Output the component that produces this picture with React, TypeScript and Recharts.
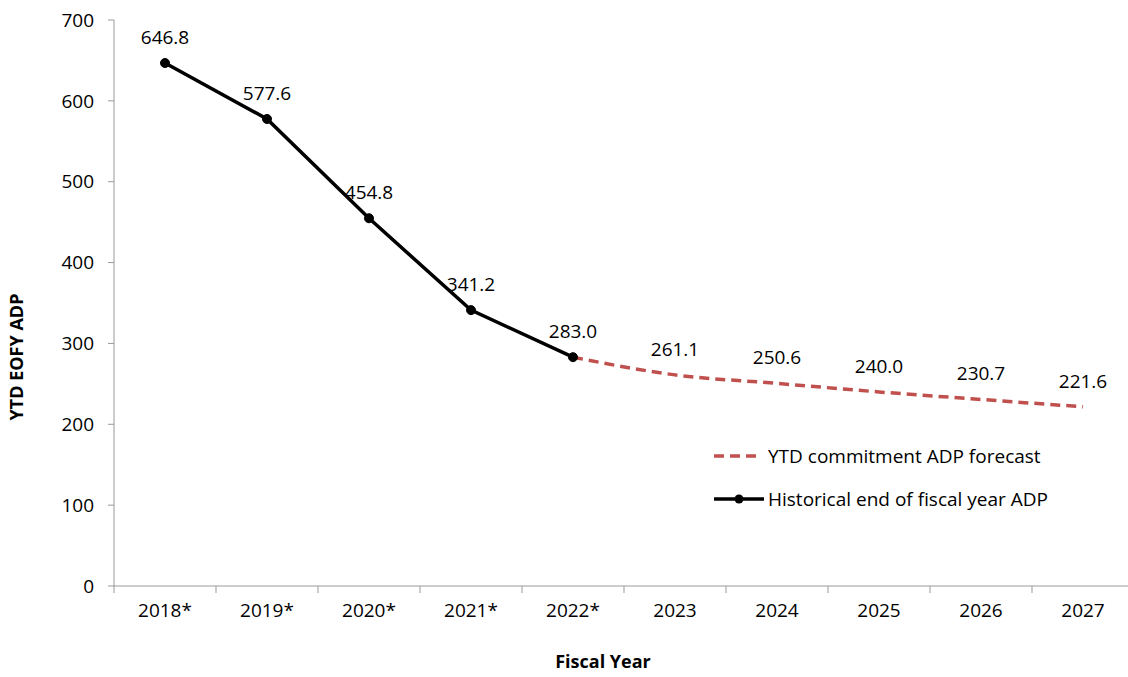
import React from 'react';
import {
  LineChart,
  Line,
  XAxis,
  YAxis,
  LabelList,
} from 'recharts';

const years = ['2018*', '2019*', '2020*', '2021*', '2022*', '2023', '2024', '2025', '2026', '2027'];
const historical = [646.8, 577.6, 454.8, 341.2, 283.0, null, null, null, null, null];
const forecast = [null, null, null, null, 283.0, 261.1, 250.6, 240.0, 230.7, 221.6];
const yTicks = [0, 100, 200, 300, 400, 500, 600, 700];

const data = years.map((year, i) => ({
  year,
  historical: historical[i],
  forecast: i > 4 ? forecast[i] : null,
  forecastLine: forecast[i],
}));

const FONT = '"Open Sans", sans-serif';
const RED = '#C0504D';
const AXIS = '#999';

// category tick with the tick mark on the band boundary, like Excel
function BandTick(props: any) {
  const { x, y, payload } = props;
  const half = payload && payload.offset ? payload.offset : 51;
  return (
    <g>
      <line x1={x - half} y1={y - 10} x2={x - half} y2={y - 3} stroke={AXIS} />
      <text x={x} y={y + 21} textAnchor="middle" fill="#000" fontSize={19} fontFamily={FONT}>
        {payload.value}
      </text>
    </g>
  );
}

function LegendBox() {
  return (
    <div
      style={{
        position: 'absolute',
        left: 714,
        top: 443,
        fontFamily: FONT,
        fontSize: 19,
        color: '#000',
        whiteSpace: 'nowrap',
      }}
    >
      <div style={{ display: 'flex', alignItems: 'center', height: 26, marginBottom: 17 }}>
        <svg width={54} height={10}>
          <line x1={0} y1={5} x2={46} y2={5} stroke={RED} strokeWidth={3.5} strokeDasharray="10 6" />
        </svg>
        <span>YTD commitment ADP forecast</span>
      </div>
      <div style={{ display: 'flex', alignItems: 'center', height: 26 }}>
        <svg width={54} height={10}>
          <line x1={0} y1={5} x2={50} y2={5} stroke="#000" strokeWidth={3.5} />
          <circle cx={25} cy={5} r={4.5} fill="#000" />
        </svg>
        <span>Historical end of fiscal year ADP</span>
      </div>
    </div>
  );
}

const fmt = (v: any) => (v == null ? '' : Number(v).toFixed(1));

export default function App() {
  return (
    <div style={{ position: 'absolute', left: 0, top: 0, width: 1128, height: 677, overflow: 'hidden', background: '#fff' }}>
      <LineChart
        width={1140}
        height={677}
        data={data}
        margin={{ top: 20, right: 6, bottom: 51, left: 54 }}
        style={{ fontFamily: FONT }}
      >
        <XAxis
          dataKey="year"
          scale="band"
          stroke={AXIS}
          tickLine={false}
          tickSize={7}
          tickMargin={3}
          tick={<BandTick />}
          height={40}
          interval={0}
        />
        <YAxis
          domain={[0, 700]}
          ticks={yTicks}
          stroke={AXIS}
          tickSize={6}
          tickMargin={14}
          tick={{ fill: '#000', fontSize: 19 }}
          width={60}
        />
        <Line
          dataKey="forecastLine"
          type="monotone"
          stroke={RED}
          strokeWidth={3.5}
          strokeDasharray="10 6"
          dot={false}
          activeDot={false}
          isAnimationActive={false}
        >
          <LabelList
            dataKey="forecast"
            position="top"
            offset={19}
            style={{ fill: '#000', fontSize: 19 }}
            formatter={fmt}
          />
        </Line>
        <Line
          dataKey="historical"
          type="linear"
          stroke="#000"
          strokeWidth={3.5}
          dot={{ r: 4.5, fill: '#000', stroke: '#000', strokeWidth: 1 }}
          activeDot={false}
          isAnimationActive={false}
        >
          <LabelList
            dataKey="historical"
            position="top"
            offset={19}
            style={{ fill: '#000', fontSize: 19 }}
            formatter={fmt}
          />
        </Line>
        <text
          x={18}
          y={357}
          transform="rotate(-90 18 357)"
          textAnchor="middle"
          dominantBaseline="middle"
          style={{ fontFamily: FONT, fontSize: 18, fontWeight: 700, fill: '#000' }}
        >
          YTD EOFY ADP
        </text>
        <text
          x={603}
          y={663}
          textAnchor="middle"
          dominantBaseline="middle"
          style={{ fontFamily: FONT, fontSize: 18, fontWeight: 700, fill: '#000' }}
        >
          Fiscal Year
        </text>
      </LineChart>
      <LegendBox />
    </div>
  );
}
